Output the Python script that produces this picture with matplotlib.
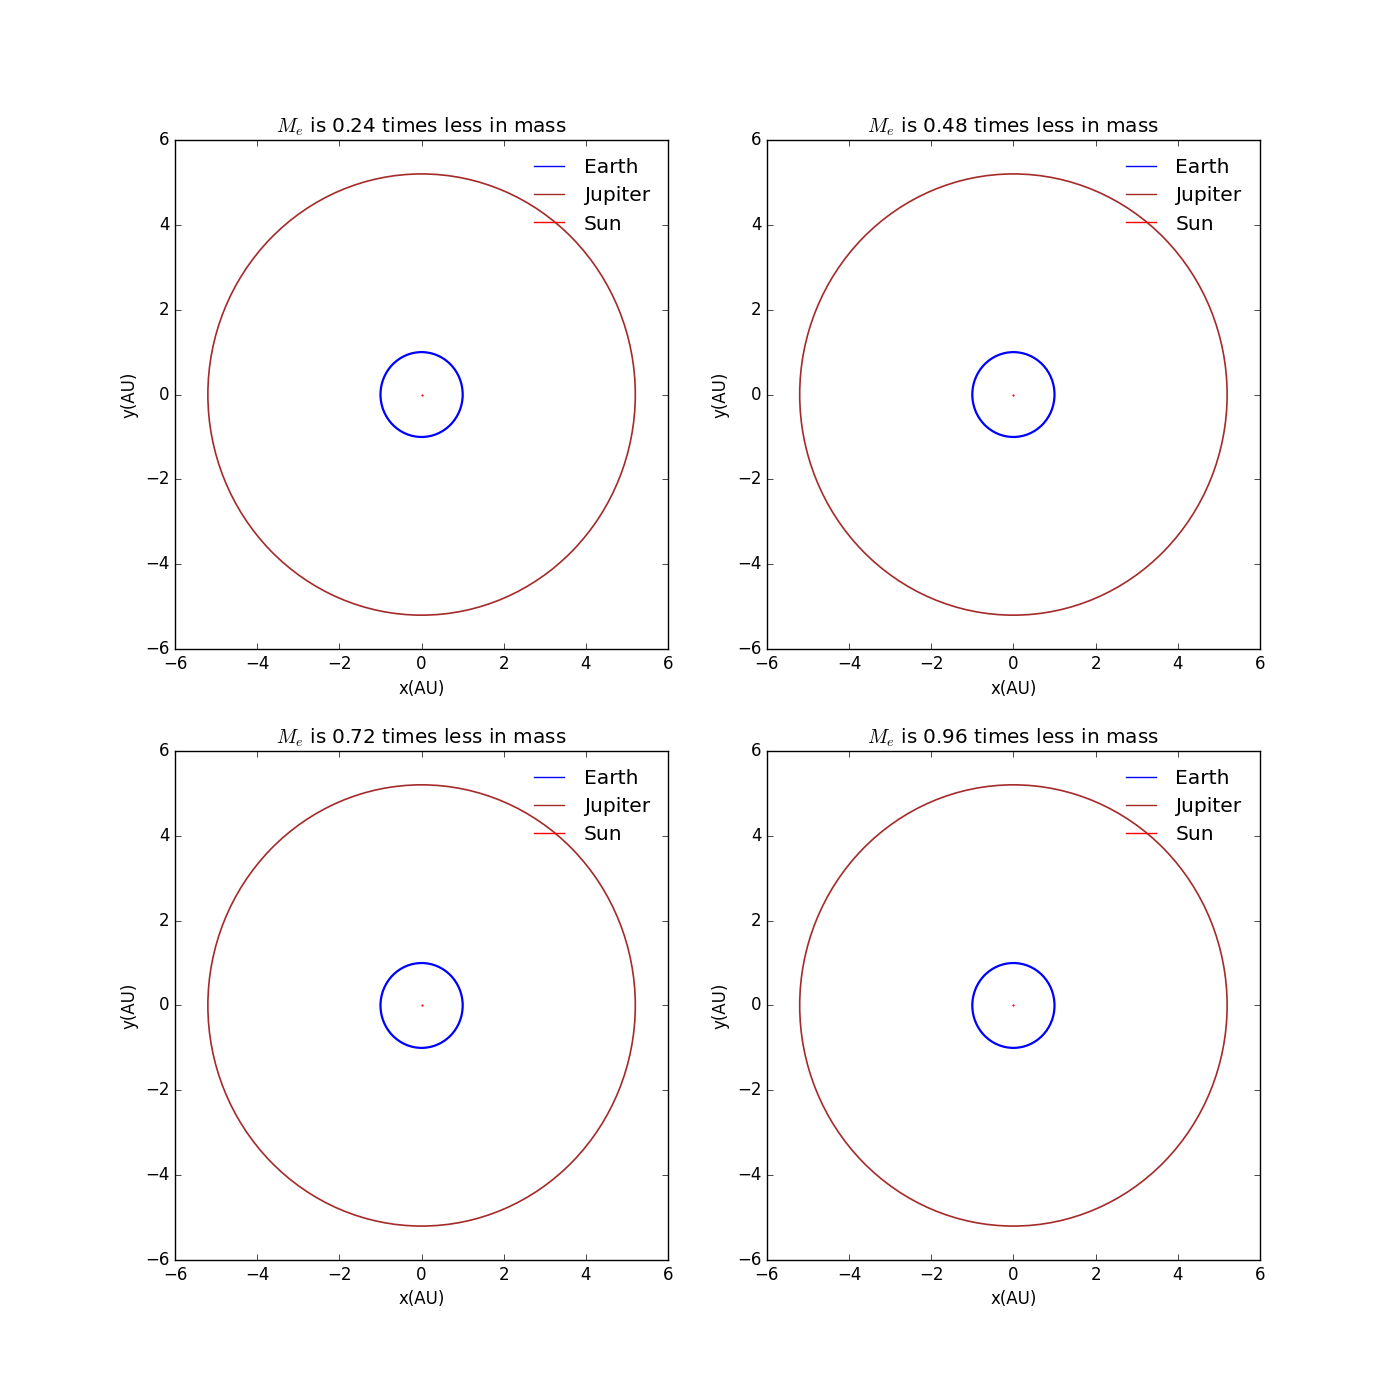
import matplotlib
matplotlib.use("Agg")
import matplotlib.pyplot as plt
from matplotlib.patches import Circle
from matplotlib.lines import Line2D

# mass factors shown in the panel titles
mass_factors = [0.24, 0.48, 0.72, 0.96]

# orbit radii in AU
earth_radius = 1.0
jupiter_radius = 5.2
sun_x = [0.0]
sun_y = [0.0]

bodies = ["Earth", "Jupiter", "Sun"]
colors = ["blue", "#a52a2a", "red"]

plt.style.use("classic")
plt.rcParams["savefig.facecolor"] = "white"
plt.rcParams["figure.facecolor"] = "white"

fig, axes = plt.subplots(2, 2, figsize=(14, 14), dpi=100)

for ax, mf in zip(axes.flat, mass_factors):
    ax.add_patch(Circle((0, 0), earth_radius, fill=False, edgecolor=colors[0], lw=1.6))
    ax.add_patch(Circle((0, 0), jupiter_radius, fill=False, edgecolor=colors[1], lw=1.2))
    ax.plot(sun_x, sun_y, color=colors[2], marker="o", markersize=1.0,
            markeredgecolor=colors[2], linestyle="none")
    ax.set_xlim(-6, 6)
    ax.set_ylim(-6, 6)
    ax.set_xlabel("x(AU)")
    ax.set_ylabel("y(AU)")
    ax.set_title(r"$M_e$ is %.2f times less in mass" % mf)
    handles = [Line2D([], [], color=c, lw=1.0) for c in colors]
    ax.legend(handles, bodies, loc="upper right", frameon=False,
              fontsize=14.6, numpoints=1, handlelength=1.5, handletextpad=0.95,
              labelspacing=0.45)

fig.savefig("out.png", dpi=100)
